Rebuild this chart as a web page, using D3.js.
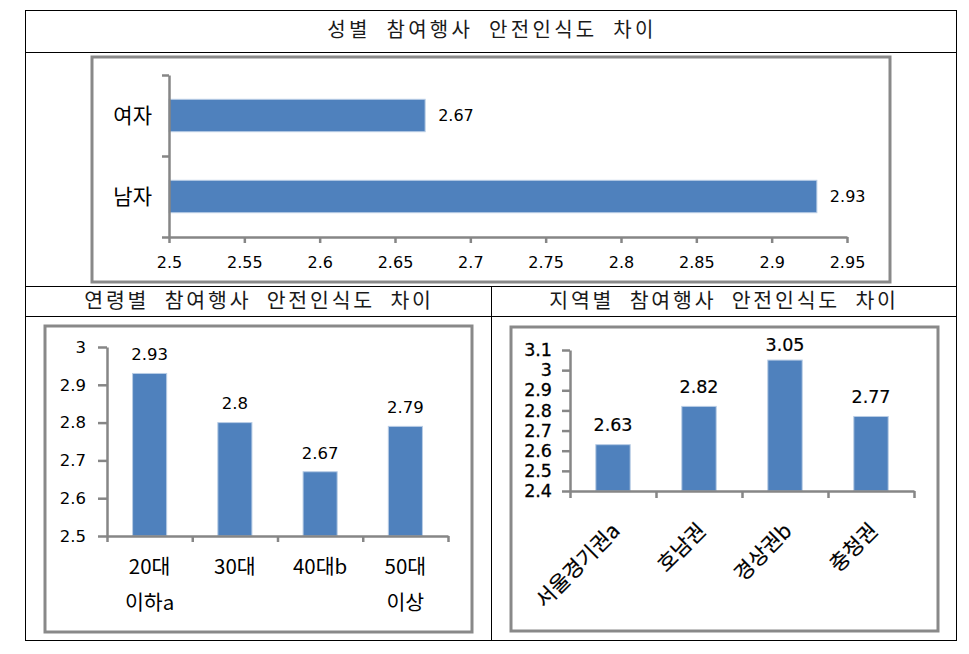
<!DOCTYPE html>
<html>
<head>
<meta charset="utf-8">
<script src="https://cdn.jsdelivr.net/npm/d3@7/dist/d3.min.js"></script>
<style>
  html, body { margin: 0; padding: 0; background: #fff; }
  svg { display: block; }
</style>
</head>
<body>
<svg id="chart" width="969" height="654"></svg>
<script>
// ---------- data ----------
const genderTitle = "성별 참여행사 안전인식도 차이";
const genderCats = ["여자", "남자"];
const genderVals = [2.67, 2.93];
const genderTicks = [2.5, 2.55, 2.6, 2.65, 2.7, 2.75, 2.8, 2.85, 2.9, 2.95];

const ageTitle = "연령별 참여행사 안전인식도 차이";
const ageCats = ["20대 이하a", "30대", "40대b", "50대 이상"];
const ageLabelLines = [["20대", "이하a"], ["30대"], ["40대b"], ["50대", "이상"]];
const ageVals = [2.93, 2.8, 2.67, 2.79];
const ageTicks = [2.5, 2.6, 2.7, 2.8, 2.9, 3];

const regionTitle = "지역별 참여행사 안전인식도 차이";
const regionCats = ["서울경기권a", "호남권", "경상권b", "충청권"];
const regionVals = [2.63, 2.82, 3.05, 2.77];
const regionTicks = [2.4, 2.5, 2.6, 2.7, 2.8, 2.9, 3, 3.1];

// ---------- styles ----------
const BAR = "#4f81bd";
const BAR_EDGE = "#b9cde5";
const AXIS = "#868686";
const FRAME = "#898989";
const NUM_FONT = "'DejaVu Sans', Verdana, sans-serif";
const KR_FONT = "'Noto Sans CJK KR', 'Noto Sans', sans-serif";

const svg = d3.select("#chart");

// ---------- table ----------
const tbl = svg.append("g").attr("fill", "none").attr("stroke", "#000").attr("stroke-width", 1);
tbl.append("rect").attr("x", 25.5).attr("y", 10.5).attr("width", 931).attr("height", 630);
[52.5, 286.5, 316.5].forEach(y =>
  tbl.append("line").attr("x1", 25.5).attr("x2", 956.5).attr("y1", y).attr("y2", y));
tbl.append("line").attr("x1", 491.5).attr("x2", 491.5).attr("y1", 286.5).attr("y2", 640.5);

function title(text, cx, cy, size, ls, ws) {
  svg.append("text")
    .attr("x", cx).attr("y", cy).attr("dy", "0.35em")
    .attr("text-anchor", "middle")
    .style("font-family", KR_FONT).style("font-size", size + "px")
    .style("letter-spacing", ls + "px").style("word-spacing", ws + "px")
    .attr("fill", "#1a1a1a")
    .text(text);
}
title(genderTitle, 492, 30, 20, 3.3, 8);
title(ageTitle, 259, 301, 20.5, 2.8, 8);
title(regionTitle, 724, 301, 20.5, 2.8, 8);

function frame(x0, y0, x1, y1) {
  svg.append("rect").attr("x", x0).attr("y", y0)
    .attr("width", x1 - x0).attr("height", y1 - y0)
    .attr("fill", "#fff").attr("stroke", FRAME).attr("stroke-width", 3);
}

function styleAxis(g) {
  g.selectAll(".domain").attr("stroke", AXIS).attr("stroke-width", 2.5);
  g.selectAll(".tick line").attr("stroke", AXIS).attr("stroke-width", 2.5);
}

// ---------- chart 1: gender (horizontal bars) ----------
frame(92, 57, 890, 282);
{
  const x = d3.scaleLinear().domain([2.5, 2.95]).range([169, 847]);
  const y = d3.scaleBand().domain(genderCats).range([75, 237]).paddingInner(0.6).paddingOuter(0.3);
  const yb = d3.scaleLinear().domain([0, genderCats.length]).range([75, 237]);

  const g = svg.append("g");
  g.selectAll("rect.bar").data(genderCats).join("rect")
    .attr("class", "bar")
    .attr("x", x(2.5)).attr("y", d => y(d))
    .attr("width", (d, i) => x(genderVals[i]) - x(2.5))
    .attr("height", y.bandwidth())
    .attr("fill", BAR).attr("stroke", BAR_EDGE).attr("stroke-width", 1);

  const xa = svg.append("g").attr("transform", "translate(0,237)")
    .call(d3.axisBottom(x).tickValues(genderTicks).tickFormat(d => String(d))
      .tickSize(6).tickSizeOuter(0).tickPadding(14));
  styleAxis(xa);
  xa.selectAll("text").style("font-family", NUM_FONT).style("font-size", "16px").attr("fill", "#000");

  const ya = svg.append("g").attr("transform", "translate(169,0)")
    .call(d3.axisLeft(yb).tickValues(d3.range(genderCats.length + 1)).tickFormat("").tickSize(7).tickSizeOuter(0));
  styleAxis(ya);

  svg.append("g").selectAll("text").data(genderCats).join("text")
    .attr("x", 152).attr("y", d => y(d) + y.bandwidth() / 2).attr("dy", "0.35em")
    .attr("text-anchor", "end")
    .style("font-family", KR_FONT).style("font-size", "21px").attr("fill", "#000")
    .text(d => d);

  svg.append("g").selectAll("text").data(genderCats).join("text")
    .attr("x", (d, i) => x(genderVals[i]) + 13)
    .attr("y", d => y(d) + y.bandwidth() / 2).attr("dy", "0.35em")
    .style("font-family", NUM_FONT).style("font-size", "16px").attr("fill", "#000")
    .text((d, i) => String(genderVals[i]));
}

// ---------- chart 2: age ----------
frame(45, 326, 472, 632);
{
  const x = d3.scaleBand().domain(ageCats).range([107, 448]).paddingInner(0.6).paddingOuter(0.3);
  const xb = d3.scaleLinear().domain([0, ageCats.length]).range([107, 448]);
  const y = d3.scaleLinear().domain([2.5, 3]).range([536, 347]);

  svg.append("g").selectAll("rect").data(ageCats).join("rect")
    .attr("x", d => x(d)).attr("width", x.bandwidth())
    .attr("y", (d, i) => y(ageVals[i]))
    .attr("height", (d, i) => y(2.5) - y(ageVals[i]))
    .attr("fill", BAR).attr("stroke", BAR_EDGE).attr("stroke-width", 1);

  const ya = svg.append("g").attr("transform", "translate(107,0)")
    .call(d3.axisLeft(y).tickValues(ageTicks).tickFormat(d => String(d)).tickSize(9).tickSizeOuter(0).tickPadding(12));
  styleAxis(ya);
  ya.selectAll("text").style("font-family", NUM_FONT).style("font-size", "16.5px").attr("fill", "#000");

  const xa = svg.append("g").attr("transform", "translate(0,536)")
    .call(d3.axisBottom(xb).tickValues(d3.range(ageCats.length + 1)).tickFormat("").tickSize(6).tickSizeOuter(0));
  styleAxis(xa);

  const lbl = svg.append("g").selectAll("g").data(ageCats).join("g");
  lbl.each(function (d, i) {
    const sel = d3.select(this);
    ageLabelLines[i].forEach((t, j) => {
      sel.append("text")
        .attr("x", x(d) + x.bandwidth() / 2).attr("y", 567 + j * 36).attr("dy", "0.35em")
        .attr("text-anchor", "middle")
        .style("font-family", KR_FONT).style("font-size", "20.5px").attr("fill", "#000")
        .text(t);
    });
  });

  svg.append("g").selectAll("text").data(ageCats).join("text")
    .attr("x", d => x(d) + x.bandwidth() / 2)
    .attr("y", (d, i) => y(ageVals[i]) - 19).attr("dy", "0.35em")
    .attr("text-anchor", "middle")
    .style("font-family", NUM_FONT).style("font-size", "16.5px").attr("fill", "#000")
    .text((d, i) => String(ageVals[i]));
}

// ---------- chart 3: region ----------
frame(511, 327, 938, 631);
{
  const x = d3.scaleBand().domain(regionCats).range([570, 914]).paddingInner(0.6).paddingOuter(0.3);
  const xb = d3.scaleLinear().domain([0, regionCats.length]).range([570, 914]);
  const y = d3.scaleLinear().domain([2.4, 3.1]).range([491, 350]);

  svg.append("g").selectAll("rect").data(regionCats).join("rect")
    .attr("x", d => x(d)).attr("width", x.bandwidth())
    .attr("y", (d, i) => y(regionVals[i]))
    .attr("height", (d, i) => y(2.4) - y(regionVals[i]))
    .attr("fill", BAR).attr("stroke", BAR_EDGE).attr("stroke-width", 1);

  const ya = svg.append("g").attr("transform", "translate(570,0)")
    .call(d3.axisLeft(y).tickValues(regionTicks).tickFormat(d => String(d)).tickSize(8).tickSizeOuter(0).tickPadding(10));
  styleAxis(ya);
  ya.selectAll("text").style("font-family", NUM_FONT).style("font-size", "17.5px")
    .attr("fill", "#000").attr("stroke", "#000").attr("stroke-width", 0.3);

  const xa = svg.append("g").attr("transform", "translate(0,491)")
    .call(d3.axisBottom(xb).tickValues(d3.range(regionCats.length + 1)).tickFormat("").tickSize(7).tickSizeOuter(0));
  styleAxis(xa);

  svg.append("g").selectAll("text").data(regionCats).join("text")
    .attr("transform", d => `translate(${x(d) + x.bandwidth() / 2 + 3},527) rotate(-45)`)
    .attr("dy", "0.35em")
    .attr("text-anchor", "end")
    .style("font-family", KR_FONT).style("font-size", "21px").attr("fill", "#000")
    .attr("stroke", "#000").attr("stroke-width", 0.2)
    .text(d => d);

  const top = y(3.1);
  svg.append("g").selectAll("text").data(regionCats).join("text")
    .attr("x", d => x(d) + x.bandwidth() / 2)
    .attr("y", (d, i) => Math.max(y(regionVals[i]) - 20, top - 5)).attr("dy", "0.35em")
    .attr("text-anchor", "middle")
    .style("font-family", NUM_FONT).style("font-size", "17.5px")
    .attr("fill", "#000").attr("stroke", "#000").attr("stroke-width", 0.2)
    .text((d, i) => String(regionVals[i]));
}
</script>
</body>
</html>
